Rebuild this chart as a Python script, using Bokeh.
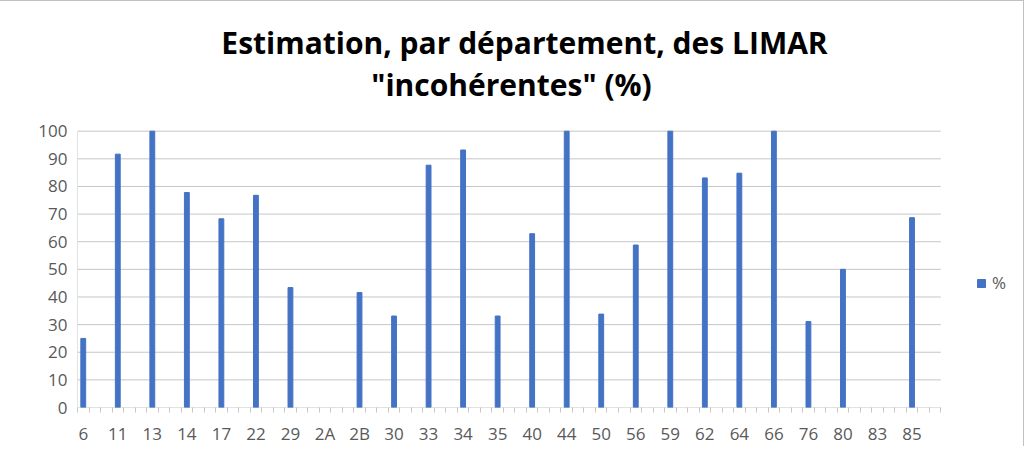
from bokeh.plotting import figure
from bokeh.models import (Range1d, FixedTicker, Label, Legend, LegendItem, ColumnDataSource)
from bokeh.embed import file_html
from bokeh.resources import INLINE

departements = ["6", "11", "13", "14", "17", "22", "29", "2A", "2B", "30", "33", "34", "35",
                "40", "44", "50", "56", "59", "62", "64", "66", "76", "80", "83", "85"]
# 2A and 83 have no value in the source chart
pourcentages = [25, 91.7, 100, 77.8, 68.3, 76.8, 43.4, None, 41.6, 33.1, 87.7, 93.2, 33.1,
                62.9, 100, 33.8, 58.8, 100, 83.1, 84.8, 100, 31.1, 50.0, None, 68.7]
y_ticks = [0, 10, 20, 30, 40, 50, 60, 70, 80, 90, 100]
titre_1 = "Estimation, par département, des LIMAR"
titre_2 = '"incohérentes" (%)'

SLOTS = 3  # each département occupies three category slots on the axis
n = len(departements)
xpos = [SLOTS * i for i in range(n)]
tops = [float("nan") if v is None else v for v in pourcentages]
src = ColumnDataSource(dict(x=xpos, top=tops, dep=departements))

FONT = "Open Sans"
GREY_TXT = "#595959"
GRID = "#c6c6c6"

# ---- layout (pixels) ----
W, H = 1024, 446
LEFT, BOTTOM = 77, 40
FRAME_W = W - LEFT
FRAME_H = H - BOTTOM
AXIS_W = 863.3            # pixel width of the 75 category slots
PX_100 = 276.3            # pixel height from 0 to 100
slot_px = AXIS_W / (SLOTS * n)
x_end = -0.5 + FRAME_W / slot_px
y_end = 100 * FRAME_H / PX_100


def x_at(px):   # page pixel -> x data
    return -0.5 + (px - LEFT) / slot_px


def y_at(py):   # page pixel (from top) -> y data
    return (FRAME_H + 1 - py) * 100 / PX_100


p = figure(width=W, height=H, output_backend="svg", toolbar_location=None,
           x_range=Range1d(-0.5, x_end), y_range=Range1d(0, y_end),
           min_border_left=LEFT, min_border_right=0, min_border_top=0, min_border_bottom=BOTTOM)
p.outline_line_color = None
p.title.text = ""
p.styles = {"border-top": "1px solid #c0c0c0", "border-right": "1px solid #c0c0c0"}

# gridlines limited to the category area
x_last = SLOTS * n - 0.5
p.segment(x0=[-0.5] * len(y_ticks), x1=[x_last] * len(y_ticks), y0=y_ticks, y1=y_ticks,
          line_color=GRID, line_width=1)
# vertical axis line
p.segment(x0=[-0.5], x1=[-0.5], y0=[0], y1=[max(y_ticks)], line_color=GRID, line_width=1)

r = p.vbar(x="x", top="top", width=0.42, source=src, color="#4472C4")

# titles
p.add_layout(Label(x=x_at(524), y=y_at(42), text=titre_1, text_align="center",
                   text_baseline="alphabetic", text_font=FONT, text_font_size="30px",
                   text_font_style="bold", text_color="#000000"))
p.add_layout(Label(x=x_at(511), y=y_at(84), text=titre_2, text_align="center",
                   text_baseline="alphabetic", text_font=FONT, text_font_size="30px",
                   text_font_style="bold", text_color="#000000"))

# x axis
xa = p.xaxis[0]
xa.ticker = FixedTicker(ticks=xpos, minor_ticks=[k - 0.5 for k in range(SLOTS * n + 1)])
xa.major_label_overrides = {x: d for x, d in zip(xpos, departements)}
xa.major_tick_out = 0
xa.major_tick_in = 0
xa.minor_tick_out = 5
xa.minor_tick_in = 0
xa.minor_tick_line_color = GRID
xa.axis_line_color = None
xa.major_label_text_font = FONT
xa.major_label_text_font_size = "17px"
xa.major_label_text_color = GREY_TXT
xa.major_label_standoff = 9

# y axis
ya = p.yaxis[0]
ya.ticker = FixedTicker(ticks=y_ticks)
ya.major_tick_out = 0
ya.major_tick_in = 0
ya.minor_tick_line_color = None
ya.axis_line_color = None
ya.major_label_text_font = FONT
ya.major_label_text_font_size = "17px"
ya.major_label_text_color = GREY_TXT
ya.major_label_standoff = 10

p.xgrid.grid_line_color = None
p.ygrid.grid_line_color = None

legend = Legend(items=[LegendItem(label="%", renderers=[r])], location=(899, 113),
                label_text_font=FONT, label_text_font_size="17px", label_text_color=GREY_TXT,
                glyph_width=10, glyph_height=10, border_line_color=None,
                background_fill_alpha=0, label_standoff=6, padding=0, margin=0)
p.add_layout(legend, "center")

open("out.html", "w").write(file_html(p, INLINE))
